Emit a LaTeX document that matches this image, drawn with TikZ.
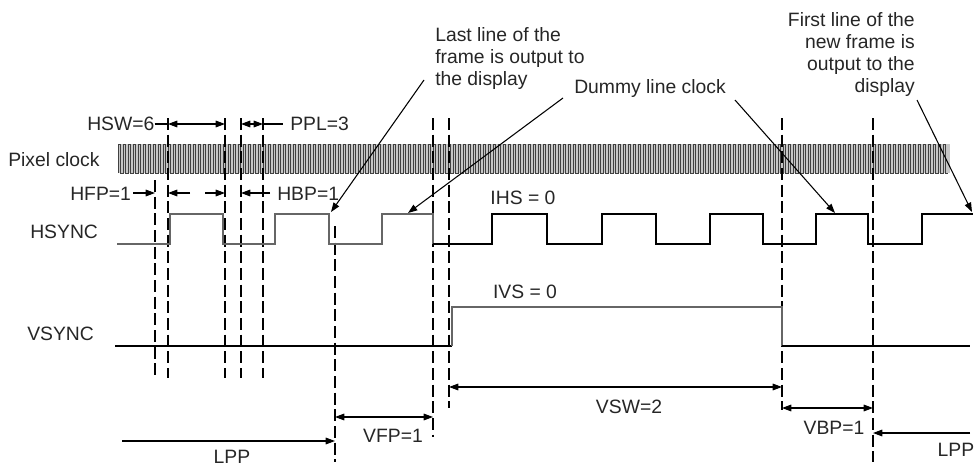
\documentclass[tikz,border=0pt]{standalone}
\usepackage{fontspec}
\setmainfont{Liberation Sans}
\usetikzlibrary{arrows.meta}
\begin{document}
\begin{tikzpicture}[x=0.75pt,y=-0.75pt,
  lbl/.style={font=\fontsize{14.5}{16.5}\selectfont, inner sep=0pt, text=black!85},
  sig/.style={line width=0.9pt, black},
  sigg/.style={line width=0.9pt, black!60},
  guide/.style={dash pattern=on 9pt off 3.5pt, line width=0.8pt},
  dim/.style={line width=0.8pt},
  arr/.style={dim,-{Triangle[length=7pt,width=5pt]}},
  darr/.style={dim,{Triangle[length=7pt,width=5pt]}-{Triangle[length=7pt,width=5pt]}},
  ]
\useasboundingbox (0,0) rectangle (976,468);

% ---------- pixel clock band ----------
\fill[gray!45] (118,144) rectangle (950,173);
\draw[line width=0.3pt, black!75] (118,173) \foreach \i in {0,...,165} { -- ++(0,-29) -- ++(2.5,0) -- ++(0,29) -- ++(2.5,0) };

% ---------- row labels ----------
\node[lbl, anchor=west] (pc) at (8,160) {Pixel clock};
\node[lbl, anchor=west] (hs) at (30,232) {HSYNC};
\node[lbl, anchor=west] (vs) at (27,334) {VSYNC};

% ---------- guide lines ----------
\draw[guide] (155,180) -- (155,378);
\foreach \x in {168,225,241,263} { \draw[guide] (\x,118) -- (\x,378); }
\draw[guide] (335,226) -- (335,462);
\draw[guide] (433,118) -- (433,437);
\draw[guide] (449,118) -- (449,408);
\draw[guide] (782,118) -- (782,410);
\draw[guide] (873,118) -- (873,462);

% ---------- HSYNC ----------
\draw[sigg] (117,244) -| (170,214) -| (223,244) -| (275,214) -| (329,244) -| (382,214) -| (433,244);
\draw[sig] (433,244) -| (492,214) -| (547,244) -| (602,214) -| (656,244) -| (710,214) -| (763,244) -| (816,214) -| (868,244) -| (922,214) -- (973,214);
\node[lbl] (ihs) at (523,198) {IHS = 0};

% ---------- VSYNC ----------
\draw[sig] (115,346) -- (452,346);
\draw[sigg] (452,346) -- (452,307) -- (782,307) -- (782,346);
\draw[sig] (782,346) -- (970,346);
\node[lbl] (ivs) at (525,292) {IVS = 0};

% ---------- horizontal timing dimensions ----------
\node[lbl, anchor=west] (hsw) at (87,124) {HSW=6};
\draw[dim] (hsw.east) -- (168,124);
\draw[darr] (168,124) -- (225,124);
\node[lbl, anchor=west] (ppl) at (290,124) {PPL=3};
\draw[darr] (241,124) -- (263,124);
\draw[dim] (263,124) -- (283,124);

\node[lbl, anchor=west] (hfp) at (70,194) {HFP=1};
\draw[arr] (133,193) -- (155,193);
\draw[arr] (190,193) -- (168,193);
\draw[arr] (205,193) -- (225,193);
\node[lbl, anchor=west] (hbp) at (277,194) {HBP=1};
\draw[arr] (270,193) -- (241,193);

% ---------- vertical timing dimensions ----------
\draw[arr] (122,441) -- (335,441);
\node[lbl] (lpp) at (232,457) {LPP};
\draw[darr] (335,417) -- (433,417);
\node[lbl] (vfp) at (393,436) {VFP=1};
\draw[darr] (449,387) -- (782,387);
\node[lbl] (vsw) at (629,407) {VSW=2};
\draw[darr] (782,408) -- (873,408);
\node[lbl] (vbp) at (834,428) {VBP=1};
\draw[arr] (970,433) -- (873,433);
\node[lbl] (lpp2) at (956,450) {LPP};

% ---------- annotations ----------
\node[lbl, anchor=north west, align=left] (last) at (435,27) {Last line of the\\frame is output to\\the display};
\draw[arr] (424,80) -- (331,212);
\node[lbl] (dummy) at (650,89) {Dummy line clock};
\draw[arr] (563,98) -- (408,213);
\draw[arr] (735,100) -- (835,213);
\node[lbl, anchor=north east, align=right] (first) at (915,12) {First line of the\\new frame is\\output to the\\display};
\draw[arr] (917,100) -- (972,212);
\end{tikzpicture}
\end{document}
